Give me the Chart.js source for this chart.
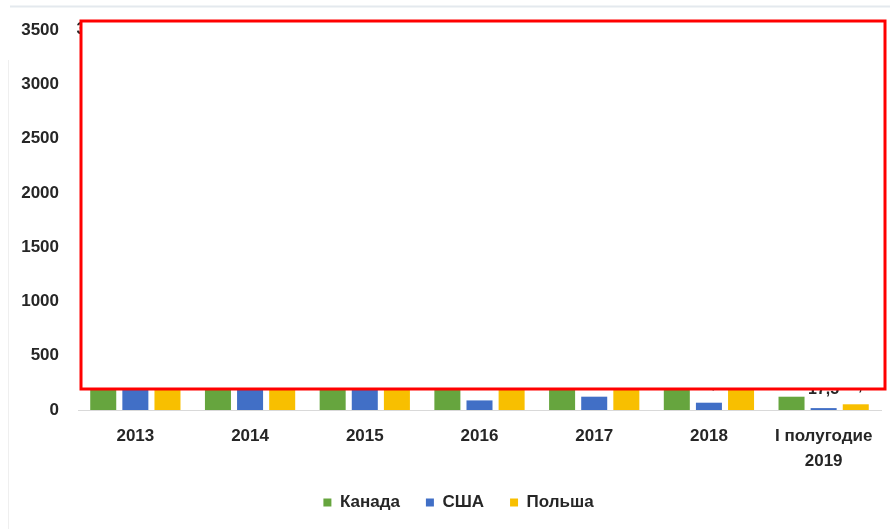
<!DOCTYPE html>
<html>
<head>
<meta charset="utf-8">
<script src="https://cdn.jsdelivr.net/npm/chart.js@4"></script>
<style>
    html, body { margin: 0; padding: 0; background: #fff; }
    #wrap { width: 890px; height: 529px; }
</style>
</head>
<body>
<div id="wrap"><canvas id="chart" width="890" height="529"></canvas></div>
<script>
// categories and values (hidden ones are estimates)
const years = ['2013', '2014', '2015', '2016', '2017', '2018', ['I полугодие', '2019']];
const canada = [3330.8, 2890.4, 2450.8, 1980.2, 2260.5, 1875.3, 122.4];
const usa = [1150.2, 980.7, 640.1, 88.3, 122.6, 67.2, 17.5];
const poland = [1320.5, 1640.8, 2100.3, 2780.1, 2350.6, 2010.4, 52.6];
const seriesNames = ['Канада', 'США', 'Польша'];
const yTicks = [0, 500, 1000, 1500, 2000, 2500, 3000, 3500];

const colors = ['#66a53e', '#416fc6', '#f8bf00'];
const font = 'Liberation Sans, Arial, sans-serif';

function fmt(v) {
    let parts = String(v).split('.');
    let whole = parts[0].replace(/\B(?=(\d{3})+(?!\d))/g, ' ');
    return parts.length > 1 ? whole + ',' + parts[1] : whole;
}

// value labels above bars, like the original
const valueLabels = {
    id: 'valueLabels',
    afterDatasetsDraw(chart) {
        const ctx = chart.ctx;
        ctx.save();
        ctx.font = 'bold 16px ' + font;
        ctx.fillStyle = '#262626';
        ctx.textAlign = 'center';
        ctx.textBaseline = 'bottom';
        chart.data.datasets.forEach((ds, i) => {
            chart.getDatasetMeta(i).data.forEach((bar, j) => {
                ctx.fillText(fmt(ds.data[j]), bar.x, bar.y - 11);
            });
        });
        ctx.restore();
    }
};

// frame lines of the screenshot and the white box with red border
const overlay = {
    id: 'overlay',
    afterLayout(chart) {
        // legend sits a bit right of the canvas centre in the original
        chart.legend.left += 18;
        chart.legend.right += 18;
    },
    beforeDraw(chart) {
        const ctx = chart.ctx;
        ctx.save();
        ctx.fillStyle = '#fff';
        ctx.fillRect(0, 0, chart.width, chart.height);
        ctx.strokeStyle = '#e4e9ee';
        ctx.lineWidth = 2;
        ctx.beginPath();
        ctx.moveTo(10, 6.5);
        ctx.lineTo(890, 6.5);
        ctx.stroke();
        ctx.strokeStyle = '#efefef';
        ctx.lineWidth = 1;
        ctx.beginPath();
        ctx.moveTo(8.5, 60);
        ctx.lineTo(8.5, 529);
        ctx.stroke();
        ctx.restore();
    },
    afterDraw(chart) {
        const ctx = chart.ctx;
        ctx.save();
        ctx.fillStyle = '#fff';
        ctx.fillRect(80, 20, 806, 370);
        ctx.strokeStyle = '#ff0000';
        ctx.lineWidth = 3;
        ctx.strokeRect(81, 21, 804, 368);
        ctx.restore();
    }
};

new Chart(document.getElementById('chart').getContext('2d'), {
    type: 'bar',
    data: {
        labels: years,
        datasets: [
            { label: seriesNames[0], data: canada, backgroundColor: colors[0] },
            { label: seriesNames[1], data: usa, backgroundColor: colors[1] },
            { label: seriesNames[2], data: poland, backgroundColor: colors[2] }
        ]
    },
    options: {
        responsive: false,
        animation: false,
        categoryPercentage: 0.84,
        barPercentage: 0.81,
        layout: { padding: { top: 30, right: 9, left: 0, bottom: 8 } },
        plugins: {
            tooltip: { enabled: false },
            legend: {
                position: 'bottom',
                labels: {
                    boxWidth: 8,
                    boxHeight: 8,
                    padding: 26,
                    color: '#262626',
                    font: { family: font, size: 17, weight: 'bold' }
                }
            }
        },
        scales: {
            x: {
                grid: { display: false },
                border: { color: '#d9d9d9', width: 1 },
                afterFit(axis) {
                    axis.height = 58;
                },
                ticks: {
                    color: '#262626',
                    padding: 6,
                    maxRotation: 0,
                    font: { family: font, size: 17, weight: 'bold', lineHeight: 1.47 }
                }
            },
            y: {
                min: 0,
                max: 3500,
                afterBuildTicks(axis) {
                    axis.ticks = yTicks.map(v => ({ value: v }));
                },
                afterFit(axis) {
                    axis.width = 78;
                },
                grid: { display: false },
                border: { display: false },
                ticks: {
                    color: '#262626',
                    padding: 11,
                    callback: v => String(v),
                    font: { family: font, size: 17, weight: 'bold' }
                }
            }
        }
    },
    plugins: [overlay, valueLabels]
});
</script>
</body>
</html>
